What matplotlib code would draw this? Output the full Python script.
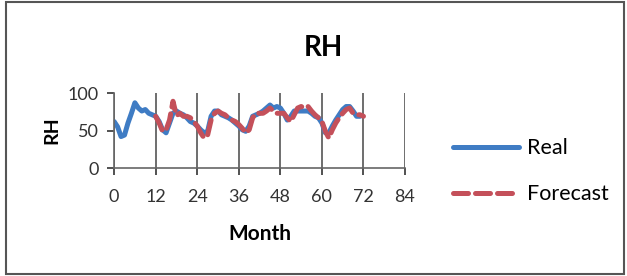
import matplotlib
matplotlib.use("Agg")
import matplotlib.pyplot as plt
from matplotlib.patches import Rectangle

# Monthly relative humidity
real_months = list(range(0, 72))
real_rh = [62, 55, 42, 44, 60, 73, 87, 80, 76, 78, 73, 71,
           69, 62, 51, 47, 60, 73, 76, 73, 71, 67, 62, 60,
           56, 51, 47, 49, 69, 76, 76, 71, 69, 67, 64, 60,
           56, 51, 49, 56, 69, 71, 73, 76, 80, 84, 80, 82,
           80, 73, 64, 69, 76, 76, 76, 76, 76, 73, 69, 67,
           60, 47, 47, 56, 64, 71, 78, 82, 82, 76, 69, 69]

fc_months = list(range(12, 73))
fc_rh = [69, 60, 49, 51, 64, 89, 70, 73, 69, 69, 67, 62,
         56, 47, 40, 44, 64, 73, 76, 73, 71, 67, 64, 62,
         58, 53, 47, 51, 67, 73, 73, 73, 76, 80, 76, 73,
         73, 73, 67, 62, 71, 80, 82, 80, 82, 76, 71, 67,
         62, 49, 40, 51, 60, 67, 73, 78, 80, 73, 71, 71, 69]

x_ticks = list(range(0, 85, 12))
y_ticks = [0, 50, 100]

font = ['Lato', 'DejaVu Sans']
plt.rcParams['font.family'] = font

fig = plt.figure(figsize=(6.27, 2.76), dpi=100)
ax = fig.add_axes([0.182, 0.391, 0.464, 0.272])

ln_real, = ax.plot(real_months, real_rh, color='#3f7cc4', lw=3.6,
                   solid_joinstyle='round', solid_capstyle='round', label='Real')
ln_fc, = ax.plot(fc_months, fc_rh, color='#c4505a', lw=3.6, ls=(0, (3.0, 1.4)),
                 dash_capstyle='round', label='Forecast')

ax.set_xlim(0, 84)
ax.set_ylim(0, 100)
ax.set_xticks(x_ticks)
ax.set_yticks(y_ticks)
ax.grid(axis='x', color='#555555', lw=1.2)
ax.set_axisbelow(True)
for s in ['top', 'right']:
    ax.spines[s].set_visible(False)
for s in ['left', 'bottom']:
    ax.spines[s].set_color('#666666')
    ax.spines[s].set_linewidth(1.2)
ax.tick_params(axis='both', labelsize=13, colors='#333333', length=5,
               width=1.2, direction='out')
ax.tick_params(axis='x', pad=10)
ax.tick_params(axis='y', pad=6)
ax.set_ylabel('RH', fontsize=14, fontweight='bold', labelpad=5)
ax.set_xlabel('Month', fontsize=15, fontweight='bold', labelpad=14)
fig.text(0.515, 0.825, 'RH', fontsize=20, fontweight='bold', ha='center', va='center')

fig.legend(handles=[ln_real, ln_fc], loc='center left',
           bbox_to_anchor=(0.722, 0.38), frameon=False, fontsize=15.5,
           borderpad=0, borderaxespad=0,
           handlelength=3.1, labelspacing=1.2, handletextpad=0.33)

fig.patches.append(Rectangle((0.009, 0.007), 0.987, 0.985, transform=fig.transFigure,
                             fill=False, edgecolor='#555555', lw=1.5))

fig.savefig('out.png', dpi=100)
